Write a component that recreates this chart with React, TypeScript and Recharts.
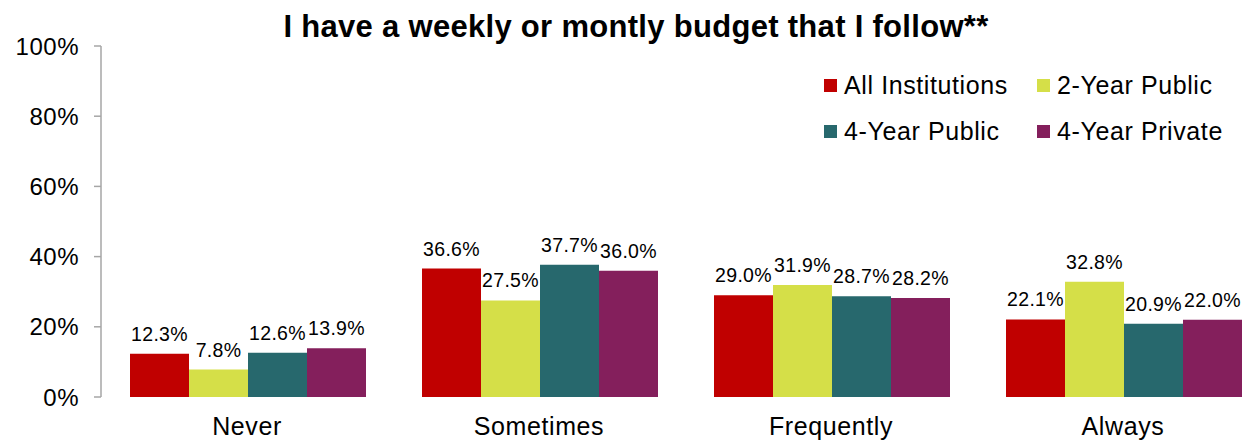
import React from 'react';
import { BarChart, Bar, XAxis, YAxis, LabelList, Legend } from 'recharts';

const categories = ['Never', 'Sometimes', 'Frequently', 'Always'];
const allInstitutions = [12.3, 36.6, 29.0, 22.1];
const twoYearPublic = [7.8, 27.5, 31.9, 32.8];
const fourYearPublic = [12.6, 37.7, 28.7, 20.9];
const fourYearPrivate = [13.9, 36.0, 28.2, 22.0];
const yTicks = [0, 20, 40, 60, 80, 100];
const boundaryTicks = [0, 1, 2, 3, 4];

const seriesInfo = [
  { key: 'all', name: 'All Institutions', color: '#C00000', values: allInstitutions },
  { key: 'twoPub', name: '2-Year Public', color: '#D5DF48', values: twoYearPublic },
  { key: 'fourPub', name: '4-Year Public', color: '#27686D', values: fourYearPublic },
  { key: 'fourPriv', name: '4-Year Private', color: '#841F5C', values: fourYearPrivate },
];

const data = categories.map((cat, i) => {
  const row: any = { cat };
  seriesInfo.forEach((s) => {
    row[s.key] = s.values[i];
  });
  return row;
});

const FONT = '"Liberation Sans", Arial, sans-serif';
const AXIS_GREY = '#A6A6A6';

// 2x2 legend like the Excel original
const LegendGrid = () => (
  <div
    style={{
      display: 'grid',
      gridTemplateColumns: '213px auto',
      gridAutoRows: '46px',
      fontFamily: FONT,
      fontSize: 25,
      letterSpacing: 0.6,
      color: '#000',
    }}
  >
    {seriesInfo.map((s) => (
      <div key={s.key} style={{ display: 'flex', alignItems: 'center', whiteSpace: 'nowrap' }}>
        <span style={{ width: 13, height: 13, background: s.color, marginRight: 7, display: 'inline-block' }} />
        <span>{s.name}</span>
      </div>
    ))}
  </div>
);

export default function App() {
  return (
    <div
      style={{
        position: 'fixed',
        left: 0,
        top: 0,
        width: 1253,
        height: 440,
        overflow: 'hidden',
        background: '#fff',
        fontFamily: FONT,
      }}
    >
      <div
        style={{
          position: 'absolute',
          left: 0,
          top: 9,
          width: 1272,
          textAlign: 'center',
          fontWeight: 'bold',
          fontSize: 31,
          letterSpacing: 0.3,
          color: '#000',
          whiteSpace: 'nowrap',
        }}
      >
        I have a weekly or montly budget that I follow**
      </div>
      <BarChart
        width={1275}
        height={460}
        data={data}
        margin={{ top: 46, right: 6, bottom: 0, left: 0 }}
        barCategoryGap={29}
        barGap={0}
        style={{ fontFamily: FONT }}
      >
        <XAxis
          xAxisId="sep"
          type="number"
          domain={[0, 4]}
          ticks={boundaryTicks}
          tick={false}
          tickSize={8}
          height={0}
          stroke={AXIS_GREY}
          strokeWidth={1.5}
        />
        <XAxis
          dataKey="cat"
          axisLine={false}
          tickLine={false}
          tickSize={0}
          tickMargin={20}
          height={63}
          interval={0}
          tick={{ fontSize: 25, fill: '#000', letterSpacing: 0.6 }}
        />
        <YAxis
          domain={[0, 100]}
          ticks={yTicks}
          width={101}
          tickSize={7}
          tickMargin={15}
          stroke={AXIS_GREY}
          strokeWidth={1.5}
          tickFormatter={(v) => `${v}%`}
          tick={{ fontSize: 24, fill: '#000', letterSpacing: 0.5 }}
        />
        <Legend
          layout="horizontal"
          verticalAlign="middle"
          align="center"
          wrapperStyle={{ top: 62, left: 824, width: 430 }}
          content={() => <LegendGrid />}
        />
        {seriesInfo.map((s) => (
          <Bar key={s.key} dataKey={s.key} name={s.name} fill={s.color} isAnimationActive={false}>
            <LabelList
              dataKey={s.key}
              position="top"
              offset={13}
              formatter={(v: any) => `${Number(v).toFixed(1)}%`}
              style={{ fontSize: 19.5, fill: '#000', fontFamily: FONT, letterSpacing: 0.3 }}
            />
          </Bar>
        ))}
      </BarChart>
    </div>
  );
}
